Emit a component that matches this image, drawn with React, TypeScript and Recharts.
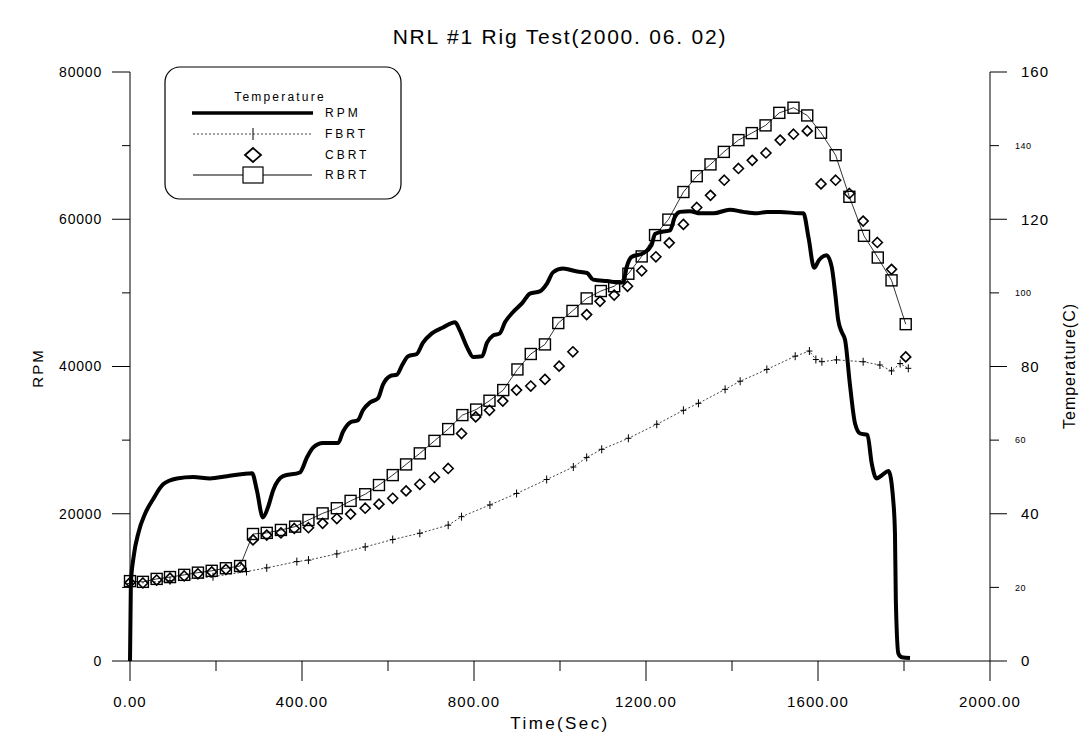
import { Legend, Line, LineChart, XAxis, YAxis } from 'recharts'

const title = 'NRL #1 Rig Test(2000. 06. 02)'

// RPM (thick line), left axis
const rpmTime = [0, 2, 8, 20, 35, 54, 77, 109, 147, 186, 226, 263, 284, 295, 309, 321, 333, 356, 395, 412, 426, 449, 484, 495, 512, 530, 542, 558, 577, 588, 605, 621, 633, 647, 667, 681, 702, 728, 756, 767, 784, 798, 819, 830, 844, 860, 872, 891, 912, 930, 953, 970, 984, 1007, 1040, 1063, 1077, 1109, 1147, 1155, 1167, 1194, 1213, 1221, 1237, 1256, 1267, 1279, 1302, 1326, 1357, 1395, 1426, 1457, 1481, 1512, 1558, 1566, 1578, 1591, 1603, 1620, 1632, 1640, 1647, 1655, 1663, 1674, 1686, 1698, 1715, 1725, 1736, 1748, 1764, 1775, 1779, 1781, 1787, 1795, 1814]
const rpmValue = [0, 10500, 14000, 17500, 20000, 22000, 24000, 24800, 25000, 24800, 25100, 25400, 25500, 23200, 19500, 20900, 23200, 25100, 25600, 27700, 29000, 29600, 29600, 31100, 32400, 32700, 34100, 35100, 35700, 37500, 38700, 38900, 40200, 41400, 41700, 43200, 44500, 45300, 46000, 44900, 42600, 41300, 41400, 43200, 44200, 44500, 46000, 47400, 48600, 49900, 50200, 51300, 52800, 53300, 52900, 52700, 51800, 51600, 51400, 53500, 54900, 55400, 56500, 58000, 58300, 58500, 60300, 61000, 61100, 60800, 60800, 61300, 61000, 60800, 61000, 61000, 60800, 60800, 57500, 53400, 54500, 55100, 53500, 49900, 46300, 44700, 43600, 37700, 32300, 30900, 30700, 26800, 24800, 25200, 25800, 21800, 17300, 8300, 1000, 500, 400]

// temperatures, right axis
const fbrtTime = [0, 93, 193, 271, 318, 388, 415, 481, 547, 611, 674, 740, 771, 837, 899, 969, 1031, 1062, 1097, 1159, 1225, 1287, 1322, 1384, 1419, 1481, 1547, 1580, 1595, 1609, 1643, 1705, 1744, 1771, 1791, 1810]
const fbrtTemp = [21.0, 21.8, 22.9, 24.3, 25.3, 27.0, 27.4, 29.1, 31.0, 33.0, 34.7, 36.9, 39.2, 42.4, 45.5, 49.3, 52.7, 55.3, 57.5, 60.5, 64.3, 68.1, 70.0, 73.8, 76.0, 79.2, 82.8, 84.2, 81.9, 81.3, 81.8, 81.3, 80.4, 78.8, 80.8, 79.5]

const cbrtTime = [0, 30, 62, 93, 126, 158, 190, 223, 256, 286, 318, 351, 382, 415, 448, 481, 513, 547, 579, 611, 642, 674, 708, 740, 771, 804, 836, 867, 899, 932, 965, 998, 1030, 1062, 1093, 1126, 1157, 1190, 1223, 1254, 1287, 1318, 1350, 1382, 1415, 1447, 1479, 1512, 1543, 1575, 1607, 1641, 1673, 1705, 1738, 1771, 1804]
const cbrtTemp = [21.3, 21.2, 22.0, 22.5, 23.1, 23.7, 24.2, 24.9, 25.5, 32.9, 34.2, 34.8, 36.0, 36.2, 37.4, 38.7, 39.9, 41.5, 42.6, 44.2, 46.2, 48.0, 49.9, 52.3, 61.8, 66.3, 68.1, 70.6, 73.6, 74.7, 76.5, 80.1, 84.0, 94.1, 97.7, 99.4, 101.8, 106.0, 109.8, 113.6, 118.6, 123.2, 126.5, 130.6, 133.8, 136.0, 138.0, 141.5, 143.1, 144.0, 129.6, 130.6, 127.0, 119.5, 113.7, 106.4, 82.6]

const rbrtTime = [0, 30, 62, 93, 126, 158, 190, 223, 256, 286, 318, 351, 384, 415, 448, 481, 513, 547, 579, 611, 642, 674, 708, 740, 773, 805, 836, 868, 901, 932, 965, 996, 1029, 1062, 1095, 1126, 1159, 1190, 1221, 1252, 1287, 1318, 1350, 1381, 1415, 1446, 1478, 1510, 1543, 1575, 1607, 1641, 1673, 1707, 1739, 1771, 1804]
const rbrtTemp = [21.7, 21.5, 22.3, 22.8, 23.4, 24.0, 24.5, 25.2, 25.8, 34.5, 34.8, 35.6, 36.5, 38.3, 40.1, 41.5, 43.5, 45.3, 47.8, 50.5, 53.4, 56.4, 59.8, 63.0, 66.8, 68.3, 70.7, 73.6, 79.2, 83.4, 86.0, 91.8, 95.1, 98.5, 100.5, 101.8, 105.2, 109.9, 115.7, 119.9, 127.4, 131.7, 134.9, 138.3, 141.5, 143.4, 145.5, 148.9, 150.3, 148.2, 143.5, 137.4, 126.1, 115.5, 109.6, 103.4, 91.5]

const timeTicks = [0, 200, 400, 600, 800, 1000, 1200, 1400, 1600, 1800, 2000]
const rpmTicks = [0, 10000, 20000, 30000, 40000, 50000, 60000, 70000, 80000]
const tempTicks = [0, 20, 40, 60, 80, 100, 120, 140, 160]
const legendNames = ['RPM', 'FBRT', 'CBRT', 'RBRT']

const rows = (ts: number[], vs: number[]) => ts.map((t, i) => ({ t, v: vs[i] }))
const rpmRows = rows(rpmTime, rpmValue)
const fbrtRows = rows(fbrtTime, fbrtTemp)
const cbrtRows = rows(cbrtTime, cbrtTemp)
const rbrtRows = rows(rbrtTime, rbrtTemp)

const FONT = 'Arial, "Liberation Sans", sans-serif'

function TimeTick({ x, y, payload }: any) {
  const major = payload.value % 400 === 0
  return (
    <g>
      <line x1={x} x2={x} y1={y} y2={y + (major ? 20 : 10)} stroke="#000" />
      {major && (
        <text x={x} y={y + 46} textAnchor="middle" fontSize={15} letterSpacing={1.1} fontFamily={FONT} fill="#000">
          {payload.value.toFixed(2)}
        </text>
      )}
    </g>
  )
}

function RpmTick({ x, y, payload }: any) {
  const major = payload.value % 20000 === 0
  return (
    <g>
      <line x1={x - (major ? 18 : 8)} x2={x} y1={y} y2={y} stroke="#000" />
      {major && (
        <text x={x - 28} y={y} dy="0.35em" textAnchor="end" fontSize={14} letterSpacing={0.8} fontFamily={FONT} fill="#000">
          {payload.value}
        </text>
      )}
    </g>
  )
}

function TempTick({ x, y, payload }: any) {
  const major = payload.value % 40 === 0
  return (
    <g>
      <line x1={x} x2={x + (major ? 17 : 9)} y1={y} y2={y} stroke="#000" />
      <text x={x + (major ? 31 : 25)} y={y} dy="0.35em" textAnchor="start" fontSize={major ? 15 : 9}
        letterSpacing={major ? 1 : 0.5} fontFamily={FONT} fill="#000">
        {payload.value}
      </text>
    </g>
  )
}

const plusDot = (p: any) => (
  <path key={`f${p.index}`} d={`M${p.cx - 3},${p.cy}h6M${p.cx},${p.cy - 4}v8`} stroke="#000" strokeWidth={1} fill="none" />
)
const diamondDot = (p: any) => (
  <path key={`c${p.index}`} d={`M${p.cx},${p.cy - 5}L${p.cx + 5},${p.cy}L${p.cx},${p.cy + 5}L${p.cx - 5},${p.cy}Z`}
    stroke="#000" strokeWidth={1.6} fill="none" />
)
const squareDot = (p: any) => (
  <rect key={`r${p.index}`} x={p.cx - 5.5} y={p.cy - 5.5} width={11} height={11} stroke="#000" strokeWidth={1.4} fill="none" />
)

function LegendBox() {
  const rowY = [47, 68, 89, 109]
  return (
    <svg width={240} height={136} style={{ display: 'block' }}>
      <rect x={1} y={1} width={236} height={132} rx={15} fill="#fff" stroke="#000" strokeWidth={1.2} />
      <text x={116} y={35} textAnchor="middle" fontSize={12} letterSpacing={2.2} fontFamily={FONT}>Temperature</text>
      <line x1={28} x2={149} y1={rowY[0]} y2={rowY[0]} stroke="#000" strokeWidth={3.5} />
      <line x1={29} x2={148} y1={rowY[1]} y2={rowY[1]} stroke="#444" strokeDasharray="2 2" />
      <path d={`M89,${rowY[1] - 6}v12`} stroke="#000" />
      <path d={`M89,${rowY[2] - 7}L97,${rowY[2]}L89,${rowY[2] + 7}L81,${rowY[2]}Z`} stroke="#000" strokeWidth={1.8} fill="none" />
      <line x1={29} x2={148} y1={rowY[3]} y2={rowY[3]} stroke="#000" />
      <rect x={79} y={rowY[3] - 8} width={20} height={16} stroke="#000" strokeWidth={1.2} fill="#fff" />
      {legendNames.map((n, i) => (
        <text key={n} x={161} y={rowY[i]} dy="0.35em" fontSize={12} letterSpacing={3} fontFamily={FONT}>{n}</text>
      ))}
    </svg>
  )
}

export default function App() {
  return (
    <div style={{ position: 'absolute', left: 0, top: 0, width: 1091, height: 738, background: '#fff', fontFamily: FONT }}>
      <div style={{ position: 'absolute', left: 260, top: 24, width: 600, textAlign: 'center', fontSize: 21, lineHeight: '26px', letterSpacing: 1.8 }}>
        {title}
      </div>
      <LineChart width={1091} height={738} margin={{ top: 72, right: 0, bottom: 0, left: 0 }}>
        <XAxis type="number" dataKey="t" domain={[0, 2000]} ticks={timeTicks} interval={0} height={77}
          axisLine={{ stroke: '#000' }} tickLine={false} tickSize={0} tickMargin={0} tick={TimeTick}
          label={{ value: 'Time(Sec)', position: 'insideBottom', offset: 9, fill: '#000', fontSize: 17, letterSpacing: 2.4, fontFamily: FONT }} />
        <YAxis yAxisId="rpm" orientation="left" domain={[0, 80000]} ticks={rpmTicks} interval={0} width={130}
          axisLine={{ stroke: '#000' }} tickLine={false} tickSize={0} tickMargin={0} tick={RpmTick}
          label={{ content: () => <text x={43} y={368} transform="rotate(-90 43 368)" textAnchor="middle" fontSize={15} letterSpacing={2} fontFamily={FONT}>RPM</text> }} />
        <YAxis yAxisId="temp" orientation="right" domain={[0, 160]} ticks={tempTicks} interval={0} width={101}
          axisLine={{ stroke: '#000' }} tickLine={false} tickSize={0} tickMargin={0} tick={TempTick}
          label={{ content: () => <text x={1075} y={366} transform="rotate(-90 1075 366)" textAnchor="middle" fontSize={16} letterSpacing={1} fontFamily={FONT}>Temperature(C)</text> }} />
        <Legend content={<LegendBox />} layout="horizontal" verticalAlign="middle" align="center"
          wrapperStyle={{ left: 164, top: 66, width: 240, height: 136 }} />
        <Line data={rbrtRows} dataKey="v" yAxisId="temp" type="linear" stroke="#000" strokeWidth={0.8}
          dot={squareDot} activeDot={false} isAnimationActive={false} />
        <Line data={cbrtRows} dataKey="v" yAxisId="temp" type="linear" stroke="none"
          dot={diamondDot} activeDot={false} isAnimationActive={false} />
        <Line data={fbrtRows} dataKey="v" yAxisId="temp" type="linear" stroke="#444" strokeWidth={1} strokeDasharray="2 2"
          dot={plusDot} activeDot={false} isAnimationActive={false} />
        <Line data={rpmRows} dataKey="v" yAxisId="rpm" type="monotone" stroke="#000" strokeWidth={4}
          dot={false} activeDot={false} isAnimationActive={false} />
      </LineChart>
    </div>
  )
}
